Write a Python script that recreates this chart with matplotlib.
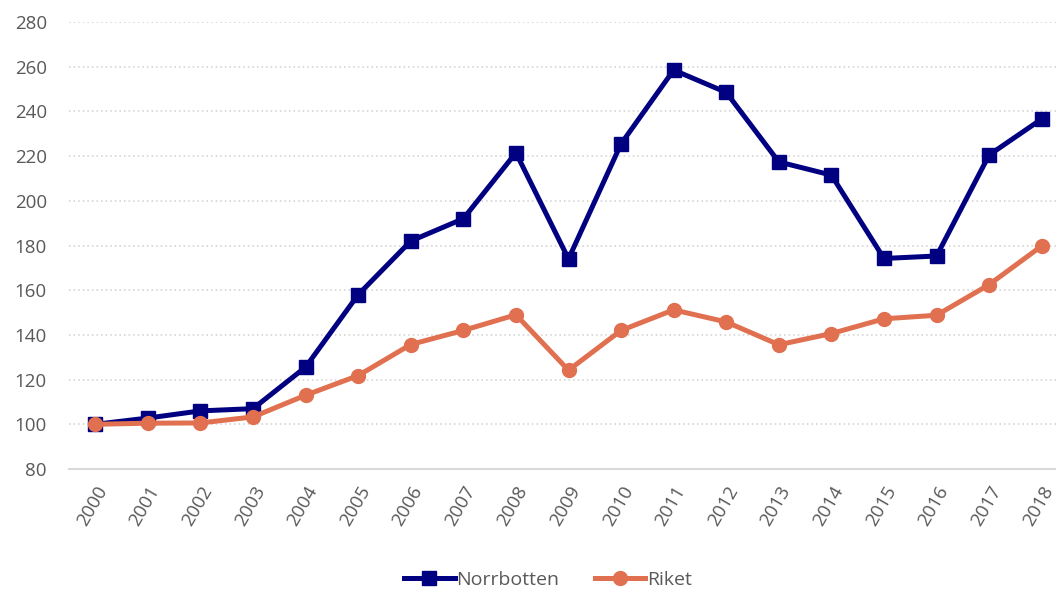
import matplotlib
matplotlib.use("Agg")
import matplotlib.pyplot as plt

years = [str(y) for y in range(2000, 2019)]
norrbotten = [100, 102.8, 106, 107, 125.6, 158, 182, 192, 221.5, 174, 225.5,
              258.5, 248.5, 217.4, 211.5, 174.2, 175.3, 220.5, 236.6]
riket = [100, 100.5, 100.6, 103.3, 113, 121.8, 135.7, 142, 149, 124.2, 142,
         151.2, 145.8, 135.6, 140.6, 147.2, 148.8, 162.5, 179.8]
yticks = list(range(80, 281, 20))

plt.rcParams['font.family'] = ['Open Sans', 'DejaVu Sans']
fig = plt.figure(figsize=(10.56, 5.91), dpi=100)
ax = fig.add_axes([69/1056, 1-469/591, (1068-69)/1056, (469-22)/591])

x = list(range(len(years)))
ax.plot(x, norrbotten, color='#000080', lw=3.6, marker='s', ms=9.5,
        label='Norrbotten', zorder=3)
ax.plot(x, riket, color='#E07050', lw=3.6, marker='o', ms=10,
        label='Riket', zorder=4)

ax.set_ylim(80, 280)
ax.set_xlim(-0.5, len(years) - 0.5)
ax.set_yticks(yticks)
ax.set_xticks(x)
ax.set_xticklabels(years, rotation=60, ha='right', rotation_mode='anchor')
ax.tick_params(axis='both', length=0, labelsize=13.5, colors='#595959')
ax.tick_params(axis='x', pad=10)
ax.tick_params(axis='y', pad=16)
for s in ['top', 'right', 'left']:
    ax.spines[s].set_visible(False)
ax.spines['bottom'].set_color('#d9d9d9')
ax.spines['bottom'].set_linewidth(1.5)
ax.yaxis.grid(True, linestyle=(0, (1, 2)), color='#cfcfcf', lw=1.1)
ax.set_axisbelow(True)

leg = fig.legend(loc='center', bbox_to_anchor=(548/1056, 1-580/591), ncol=2,
                 frameon=False, fontsize=14, handlelength=2.6, columnspacing=1.8,
                 handletextpad=0.1)
for t in leg.get_texts():
    t.set_color('#595959')

fig.savefig('out.png', dpi=100)
